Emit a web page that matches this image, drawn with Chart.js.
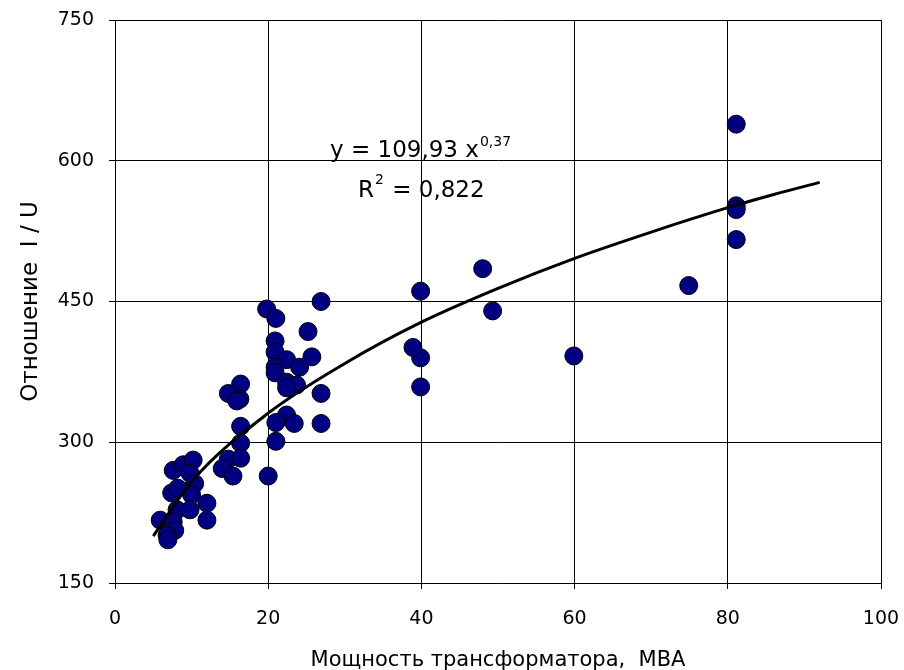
<!DOCTYPE html>
<html>
<head>
<meta charset="utf-8">
<script src="https://cdn.jsdelivr.net/npm/chart.js@4"></script>
<style>
  html, body { margin: 0; padding: 0; background: #fff; }
  #wrap { width: 904px; height: 670px; }
</style>
</head>
<body>
<div id="wrap"><canvas id="chart" width="904" height="670"></canvas></div>
<script>
// ---- data ----
const powerMVA = [
  81.1, 81.1, 81.1, 81.1, 74.9, 59.9, 49.3, 48.0, 39.9, 39.9, 38.9, 39.9,
  26.9, 19.8, 21.0, 25.2, 20.9, 20.9, 25.7, 22.4, 20.9, 24.1, 20.9, 22.4, 23.7, 22.4, 26.9,
  22.4, 21.0, 23.4, 26.9, 21.0, 20.0,
  16.4, 14.8, 16.3, 15.9, 16.4, 16.4, 14.8, 16.4, 14.0, 15.4,
  7.6, 8.9, 10.2, 9.8, 10.4, 7.4, 8.2, 10.0, 12.0, 8.1, 9.8, 12.0, 5.9, 7.6, 7.8, 6.8, 6.9
];
const ratioIU = [
  639, 552, 548, 516, 467, 392, 440, 485, 461, 390, 401, 359,
  450, 442, 432, 418, 408, 396, 391, 388, 380, 380, 374, 364, 361, 358, 352,
  329, 321, 320, 320, 301, 264,
  362, 352, 346, 344, 317, 299, 282, 283, 272, 264,
  270, 276, 281, 267, 256, 246, 251, 244, 235, 228, 228, 217, 217, 215, 206, 201, 196
];
// power trend line (y = 109,93 x^0,37)
const trendX = [5, 10, 20, 30, 40, 50, 60, 70, 80, 86, 92];
const trendY = [200, 258, 331, 384, 428, 464, 496, 524, 550, 564, 577];

const xTicks = [0, 20, 40, 60, 80, 100];
const yTicks = [150, 300, 450, 600, 750];

const scatterPts = powerMVA.map((x, i) => ({ x: x, y: ratioIU[i] }));
const trendPts = trendX.map((x, i) => ({ x: x, y: trendY[i] }));

const FONT = 'DejaVu Sans, Arial, sans-serif';

// equation + R² label
const labelPlugin = {
  id: 'eqLabel',
  afterDatasetsDraw(chart) {
    const ctx = chart.ctx;
    ctx.save();
    ctx.fillStyle = '#000';
    ctx.textBaseline = 'alphabetic';
    ctx.textAlign = 'left';
    ctx.font = '23px ' + FONT;
    const s1 = 'y = 109,93 x';
    ctx.fillText(s1, 330, 157);
    const w1 = ctx.measureText(s1).width;
    ctx.font = '14px ' + FONT;
    ctx.fillText('0,37', 330 + w1 + 1, 146);

    ctx.font = '23px ' + FONT;
    ctx.fillText('R', 358, 197);
    const wr = ctx.measureText('R').width;
    ctx.font = '14px ' + FONT;
    ctx.fillText('2', 358 + wr + 1, 184);
    const w2 = ctx.measureText('2').width;
    ctx.font = '23px ' + FONT;
    ctx.fillText(' = 0,822', 358 + wr + w2 + 2, 197);
    ctx.restore();
  }
};

new Chart(document.getElementById('chart'), {
  type: 'scatter',
  data: {
    datasets: [
      {
        type: 'line',
        data: trendPts,
        borderColor: '#000',
        borderWidth: 3,
        pointRadius: 0,
        cubicInterpolationMode: 'monotone',
        fill: false,
        order: 0
      },
      {
        data: scatterPts,
        backgroundColor: '#000080',
        borderColor: '#000',
        borderWidth: 1,
        pointRadius: 9,
        order: 1
      }
    ]
  },
  options: {
    responsive: false,
    animation: false,
    layout: { padding: { top: 20, right: 23, left: 0, bottom: 0 } },
    plugins: {
      legend: { display: false },
      tooltip: { enabled: false }
    },
    scales: {
      x: {
        type: 'linear',
        min: 0, max: 100,
        afterBuildTicks: s => { s.ticks = xTicks.map(v => ({ value: v })); },
        afterFit: s => { s.height = 87; s.paddingLeft = 0; s.paddingRight = 0; },
        grid: { color: '#000', lineWidth: 1, tickLength: 6, drawTicks: true },
        border: { color: '#000', width: 1 },
        ticks: { color: '#000', font: { family: FONT, size: 19 }, padding: 19, maxRotation: 0 },
        title: {
          display: true,
          text: 'Мощность трансформатора,  МВА',
          color: '#000',
          font: { family: FONT, size: 21 },
          padding: { top: 0, bottom: -3 }
        }
      },
      y: {
        type: 'linear',
        min: 150, max: 750,
        afterBuildTicks: s => { s.ticks = yTicks.map(v => ({ value: v })); },
        afterFit: s => { s.width = 115; s.paddingTop = 0; s.paddingBottom = 0; },
        grid: { color: '#000', lineWidth: 1, tickLength: 6, drawTicks: true },
        border: { color: '#000', width: 1 },
        ticks: { color: '#000', font: { family: FONT, size: 19 }, padding: 15 },
        title: {
          display: true,
          text: 'Отношение  I / U',
          color: '#000',
          font: { family: FONT, size: 23 },
          padding: { top: 17, bottom: 0 }
        }
      }
    }
  },
  plugins: [labelPlugin]
});
</script>
</body>
</html>
